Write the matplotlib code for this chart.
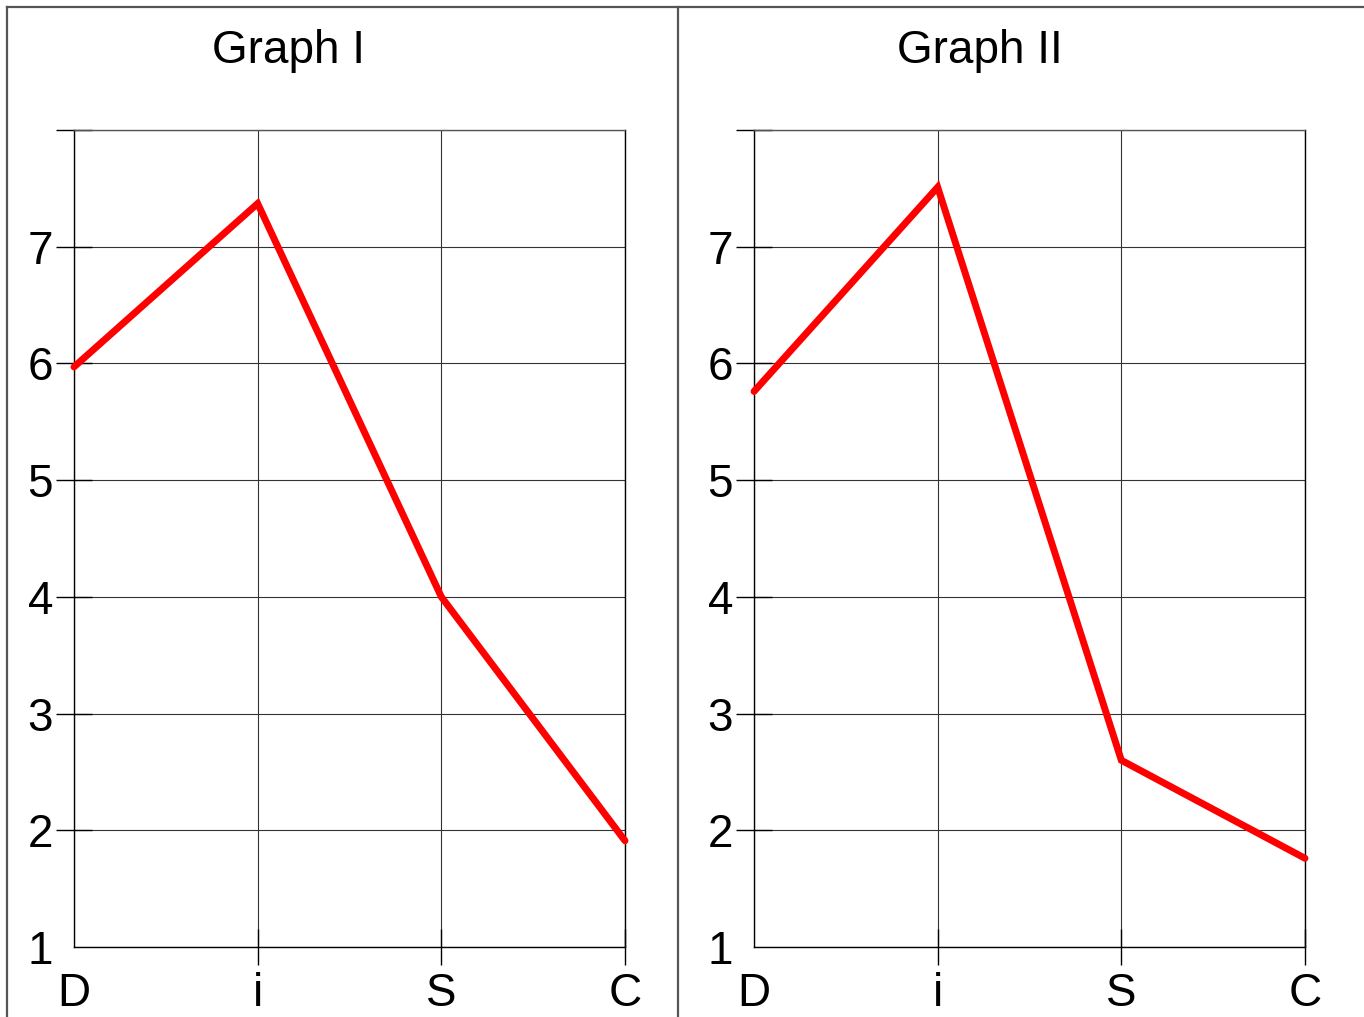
import matplotlib
matplotlib.use("Agg")
import matplotlib.pyplot as plt
from matplotlib.lines import Line2D

plt.rcParams['font.family'] = ['Liberation Sans', 'DejaVu Sans']

categories = ['D', 'i', 'S', 'C']
graph1_values = [5.97, 7.37, 4.0, 1.91]
graph2_values = [5.76, 7.51, 2.60, 1.76]
titles = ['Graph I', 'Graph II']
y_ticks = [1, 2, 3, 4, 5, 6, 7, 8]
y_labels = ['1', '2', '3', '4', '5', '6', '7', '']

W, H = 1364, 1017
fig = plt.figure(figsize=(W / 100, H / 100), dpi=100)

def px(x0, y0, x1, y1):
    return [x0 / W, 1 - y1 / H, (x1 - x0) / W, (y1 - y0) / H]

axes_rects = [px(74, 130, 625, 947), px(754, 130, 1305, 947)]
title_x = [289, 980]

for rect, vals, title, tx in zip(axes_rects, [graph1_values, graph2_values], titles, title_x):
    ax = fig.add_axes(rect)
    xs = list(range(len(categories)))
    ax.plot(xs, vals, color='#ff0000', lw=5.0, solid_capstyle='round', solid_joinstyle='miter', zorder=5, clip_on=False)
    ax.set_xlim(0, len(categories) - 1)
    ax.set_ylim(1, 8)
    ax.set_xticks(xs)
    ax.set_xticklabels(categories)
    ax.set_yticks(y_ticks)
    ax.set_yticklabels(y_labels)
    ax.tick_params(axis='both', direction='inout', length=26, width=1.0, color='black', labelsize=33)
    ax.tick_params(axis='y', pad=2)
    ax.tick_params(axis='x', pad=5)
    ax.yaxis.get_major_ticks()[0].tick1line.set_visible(False)
    ax.xaxis.get_major_ticks()[0].tick1line.set_visible(False)
    ax.grid(True, color='#333333', lw=0.8)
    for s in ['left', 'bottom', 'right']:
        ax.spines[s].set_color('black')
        ax.spines[s].set_linewidth(1.0)
    ax.spines['top'].set_color('#555555')
    ax.spines['top'].set_linewidth(1.0)
    fig.text(tx / W, 1 - 51 / H, title, ha='center', va='center', fontsize=33)

# panel borders
border_kw = dict(color='#555555', lw=1.6, transform=fig.transFigure)
fig.add_artist(Line2D([6.5 / W, 6.5 / W], [0, 1 - 6.5 / H], **border_kw))
fig.add_artist(Line2D([6.5 / W, 1], [1 - 6.5 / H, 1 - 6.5 / H], **border_kw))
fig.add_artist(Line2D([678 / W, 678 / W], [0, 1 - 6.5 / H], **border_kw))

fig.savefig('out.png', dpi=100, facecolor='white')
